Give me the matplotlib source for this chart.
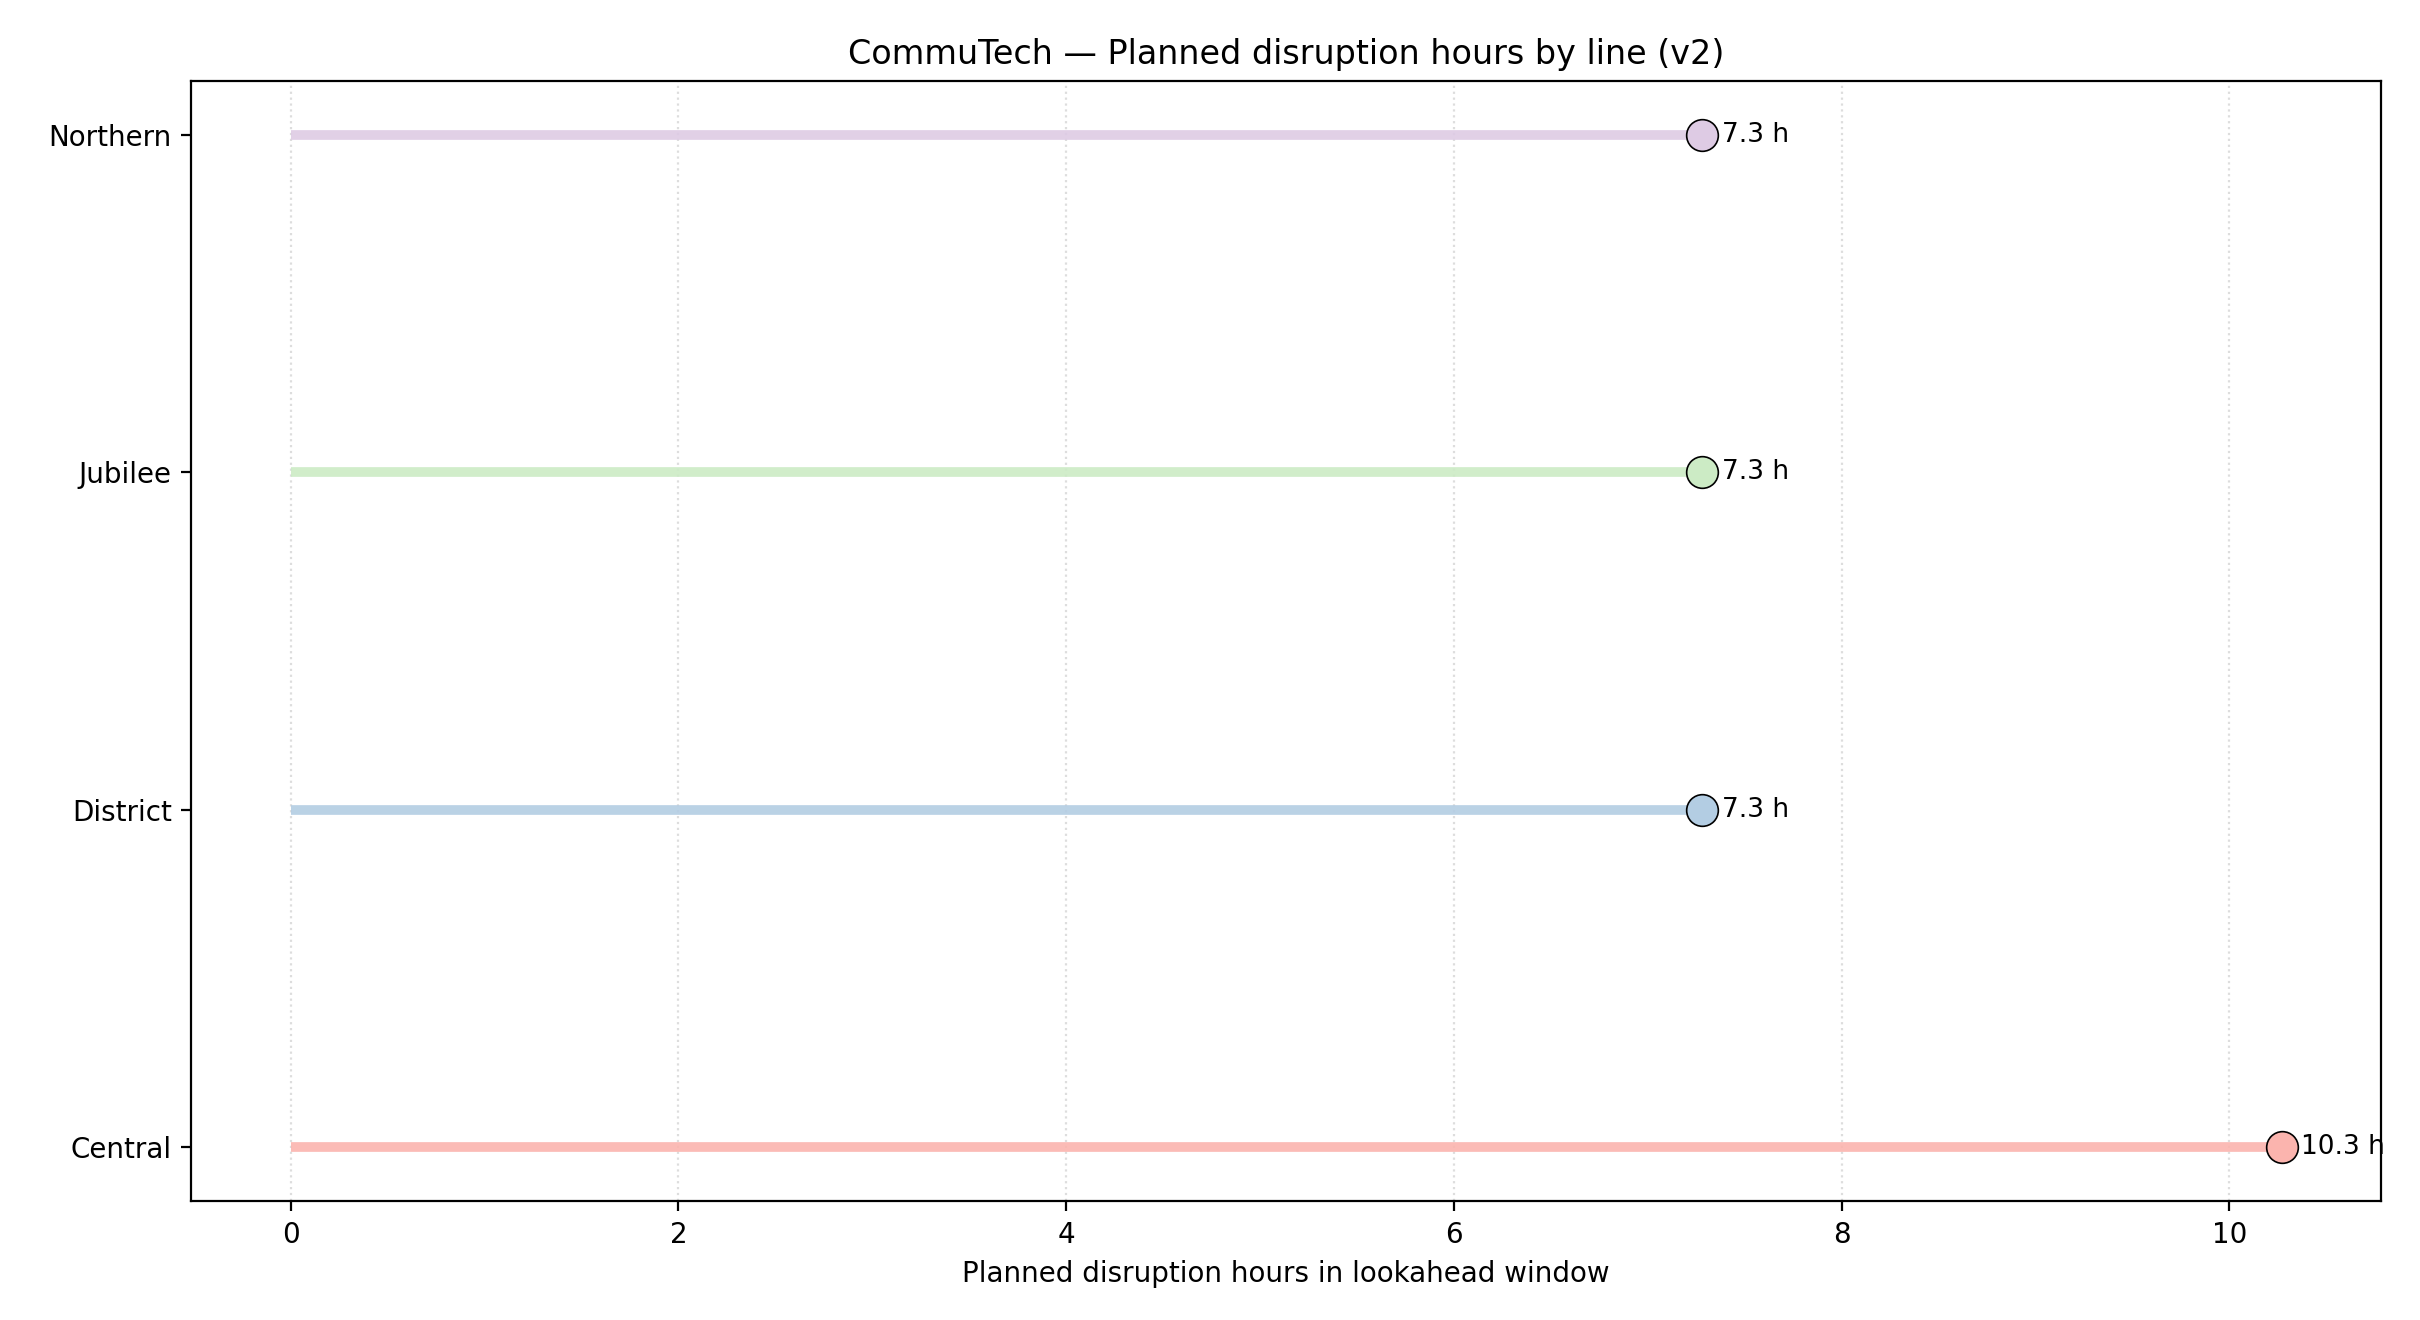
import matplotlib
matplotlib.use("Agg")
import matplotlib.pyplot as plt

lines = ["Central", "District", "Jubilee", "Northern"]
hours = [10.27, 7.28, 7.28, 7.28]
colors = ["#fbb4ae", "#b3cde3", "#ccebc5", "#decbe4"]

fig, ax = plt.subplots(figsize=(12.1, 6.6), dpi=200)
for i, (n, h, c) in enumerate(zip(lines, hours, colors)):
    ax.hlines(i, 0, h, color=c, lw=3.5, alpha=0.9, zorder=2)
    ax.scatter([h], [i], s=130, color=c, edgecolor="black", linewidth=0.6, zorder=3)
    ax.annotate(f"{h:.1f} h", (h, i), xytext=(7, 0), textcoords="offset points",
                va="center", ha="left", fontsize=9.5)
ax.set_yticks(range(len(lines)))
ax.set_yticklabels(lines)
ax.set_ylim(-0.16, 3.16)
ax.grid(axis="x", linestyle=":", color="#dddddd", lw=0.8)
ax.set_axisbelow(True)
ax.set_xlabel("Planned disruption hours in lookahead window")
ax.set_title("CommuTech — Planned disruption hours by line (v2)")
fig.tight_layout()
fig.subplots_adjust(left=0.079, right=0.984, top=0.939, bottom=0.09)
fig.savefig("out.png")
